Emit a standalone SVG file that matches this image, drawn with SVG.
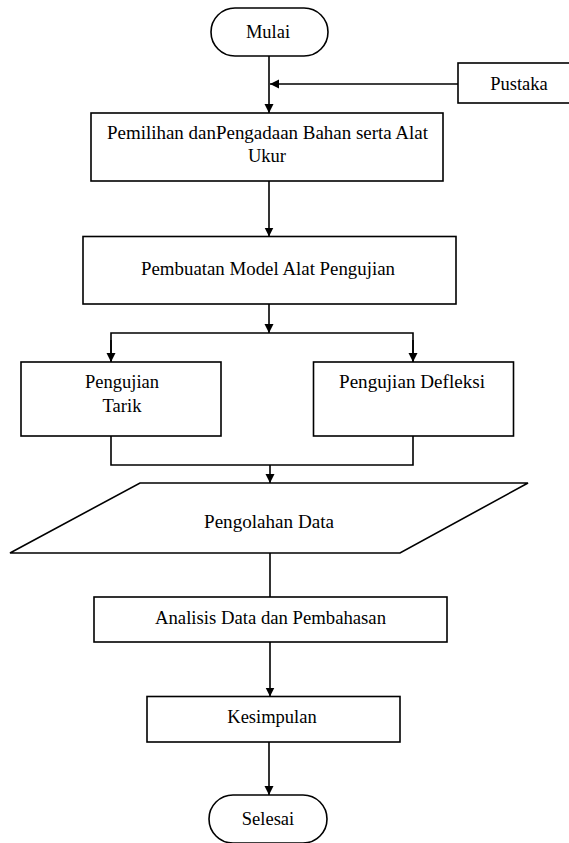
<svg xmlns="http://www.w3.org/2000/svg" width="569" height="843" viewBox="0 0 569 843">
<style>
.s{fill:#fff;stroke:#000;stroke-width:1.6}
.c{fill:none;stroke:#000;stroke-width:1.6}
.t{font-size:18.5px;fill:#000;text-anchor:middle}
</style>
<defs>
<marker id="ah" markerWidth="10" markerHeight="10" refX="9" refY="5" orient="auto" markerUnits="userSpaceOnUse">
<path d="M0,0.5 L9,5 L0,9.5 Z" fill="#000"/>
</marker>
</defs>
<rect width="569" height="843" fill="#fff"/>
<g id="connectors">
<line class="c" x1="269" y1="56" x2="269" y2="113" marker-end="url(#ah)"/>
<line class="c" x1="458" y1="84" x2="270" y2="84" marker-end="url(#ah)"/>
<line class="c" x1="269" y1="181" x2="269" y2="236.5" marker-end="url(#ah)"/>
<line class="c" x1="269" y1="304" x2="269" y2="333" marker-end="url(#ah)"/>
<polyline class="c" points="111,362 111,333 413,333 413,362"/>
<line class="c" x1="111" y1="340" x2="111" y2="362" marker-end="url(#ah)"/>
<line class="c" x1="413" y1="340" x2="413" y2="362" marker-end="url(#ah)"/>
<polyline class="c" points="111,436 111,465 413,465 413,436"/>
<line class="c" x1="270" y1="465" x2="270" y2="483" marker-end="url(#ah)"/>
<line class="c" x1="270" y1="553" x2="270" y2="597"/>
<line class="c" x1="270" y1="642" x2="270" y2="696.5" marker-end="url(#ah)"/>
<line class="c" x1="269" y1="742" x2="269" y2="795" marker-end="url(#ah)"/>
</g>
<g id="mulai">
<rect class="s" x="211" y="8" width="117" height="48" rx="24" ry="24"/>
<text class="t" font-family="Liberation Serif" x="268" y="37.5">Mulai</text>
</g>
<g id="pustaka">
<rect class="s" x="458" y="63" width="112" height="40"/>
<text class="t" font-family="Liberation Serif" x="519" y="89.5">Pustaka</text>
</g>
<g id="pemilihan">
<rect class="s" x="91" y="113" width="352" height="68"/>
<text class="t" font-family="Liberation Serif" x="267.5" y="138.5" textLength="321" lengthAdjust="spacingAndGlyphs">Pemilihan danPengadaan Bahan serta Alat</text>
<text class="t" font-family="Liberation Serif" x="267" y="162">Ukur</text>
</g>
<g id="pembuatan">
<rect class="s" x="83" y="236.5" width="373" height="67.5"/>
<text class="t" font-family="Liberation Serif" x="268" y="275" textLength="254" lengthAdjust="spacingAndGlyphs">Pembuatan Model Alat Pengujian</text>
</g>
<g id="tarik">
<rect class="s" x="21" y="362" width="200" height="74"/>
<text class="t" font-family="Liberation Serif" x="122" y="388">Pengujian</text>
<text class="t" font-family="Liberation Serif" x="122" y="412">Tarik</text>
</g>
<g id="defleksi">
<rect class="s" x="313.5" y="362" width="200" height="74"/>
<text class="t" font-family="Liberation Serif" x="412" y="388" textLength="146" lengthAdjust="spacingAndGlyphs">Pengujian Defleksi</text>
</g>
<g id="pengolahan">
<polygon class="s" points="140,483 528,483 400,553 10,553"/>
<text class="t" font-family="Liberation Serif" x="269" y="527.5" textLength="130" lengthAdjust="spacingAndGlyphs">Pengolahan Data</text>
</g>
<g id="analisis">
<rect class="s" x="94" y="597" width="353" height="45"/>
<text class="t" font-family="Liberation Serif" x="270.5" y="624" textLength="231" lengthAdjust="spacingAndGlyphs">Analisis Data dan Pembahasan</text>
</g>
<g id="kesimpulan">
<rect class="s" x="147" y="696.5" width="253" height="45.5"/>
<text class="t" font-family="Liberation Serif" x="272" y="723">Kesimpulan</text>
</g>
<g id="selesai">
<rect class="s" x="209" y="795" width="118" height="48" rx="24" ry="24"/>
<text class="t" font-family="Liberation Serif" x="268" y="825">Selesai</text>
</g>
</svg>
